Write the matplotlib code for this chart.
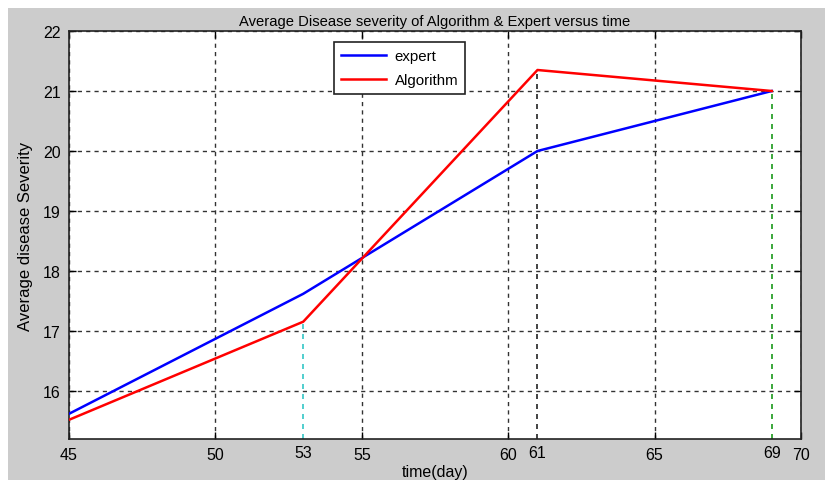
import matplotlib.pyplot as plt
from matplotlib.patches import Rectangle

# data
days = [45, 53, 61, 69]
expert = [15.62, 17.62, 20.0, 21.0]
algorithm = [15.52, 17.155, 21.35, 21.0]

major_ticks = [45, 50, 55, 60, 65, 70]
extra_ticks = [53, 61, 69]
extra_colors = ['#33c6c6', '#222222', '#1a9a1a']
y_ticks = [16, 17, 18, 19, 20, 21, 22]

plt.rcParams['font.family'] = ['Liberation Sans', 'DejaVu Sans']
FS = 11.5

fig = plt.figure(figsize=(8.25, 4.81), dpi=100, facecolor='white')
# matlab-style grey figure panel
fig.patches.append(Rectangle((8 / 825, 0), 1, 1 - 9 / 481, transform=fig.transFigure,
                             facecolor='#cccccc', edgecolor='none', zorder=-10))

ax = fig.add_axes([69 / 825, 1 - 440 / 481, 732 / 825, 408 / 481])
ax.set_facecolor('white')
ax.set_xlim(45, 70)
ax.set_ylim(15.2, 22)

ax.set_xticks(major_ticks)
ax.set_xticks(extra_ticks, minor=True)
ax.set_xticklabels([str(t) for t in major_ticks], fontsize=FS)
ax.set_xticklabels([str(t) for t in extra_ticks], minor=True, fontsize=FS)
ax.set_yticks(y_ticks)
ax.set_yticklabels([str(t) for t in y_ticks], fontsize=FS)
ax.tick_params(which='major', direction='in', top=True, right=True, length=5, width=1, pad=6)
ax.tick_params(which='minor', direction='in', length=0, pad=4)
ax.grid(True, which='major', color='#333333', linestyle=(0, (3, 3)), linewidth=1)
for s in ax.spines.values():
    s.set_linewidth(1.2)
    s.set_color('#222222')

ax.plot(days, expert, color='#0000ff', linewidth=1.8, label='expert', zorder=3)
ax.plot(days, algorithm, color='#ff0000', linewidth=1.8, label='Algorithm', zorder=4)

# drop lines from the algorithm points to the axis
for x, c in zip(extra_ticks, extra_colors):
    top = algorithm[days.index(x)]
    ax.vlines(x, 15.2, top, colors=c, linestyles=(0, (3, 3)), linewidth=1.2, zorder=2)

leg = ax.legend(loc='upper left', bbox_to_anchor=(0.362, 0.972), fontsize=10.8,
                fancybox=False, framealpha=1, edgecolor='#222222',
                handlelength=3.0, borderpad=0.45, labelspacing=0.65, handletextpad=0.6,
                borderaxespad=0)
leg.get_frame().set_linewidth(1.2)

ax.set_title('Average Disease severity of Algorithm & Expert versus time', fontsize=10.6, pad=4)
ax.set_xlabel('time(day)', fontsize=FS, labelpad=1)
ax.set_ylabel('Average disease Severity', fontsize=12, labelpad=7)

fig.savefig('out.png', dpi=100, facecolor=fig.get_facecolor())
